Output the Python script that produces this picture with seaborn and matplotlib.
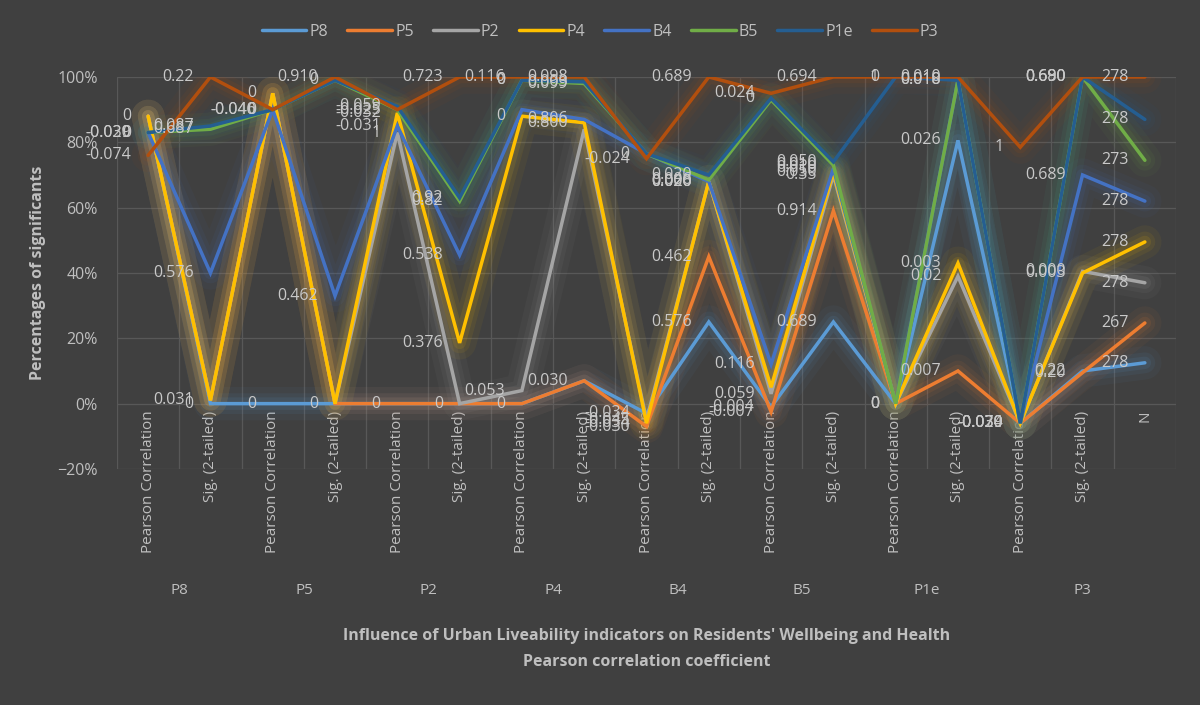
import pandas as pd
import matplotlib
matplotlib.use('Agg')
import matplotlib.pyplot as plt
import matplotlib.transforms as mtransforms
from matplotlib.ticker import PercentFormatter
import seaborn as sns

# categories on the x axis
groups = ['P8', 'P5', 'P2', 'P4', 'B4', 'B5', 'P1e', 'P3']
categories = ['Pearson Correlation', 'Sig. (2-tailed)'] * 8 + ['N']
series = ['P8', 'P5', 'P2', 'P4', 'B4', 'B5', 'P1e', 'P3']

# plotted values (percent)
P8 = [88, 0, 0, 0, 0, 0, 0, 7, -3, 25, -1, 25, 0, 80.6, -6, 10, 12.5]
P5 = [88, 1, 95, 0, 0, 0, 0, 7, -7, 45, -2.5, 59, 0, 10, -6, 9.5, 24.7]
P2 = [88, 1, 95, 0, 83, 0, 4, 84, -5, 68, 3, 70, 0, 39, -6, 40.5, 37]
P4 = [88, 1, 95, 0, 89, 18.6, 88, 86, -6, 68, 5, 71, 0, 43, -6, 40, 49.5]
B4 = [83, 40, 90, 33, 85, 45.5, 90, 87, 76.5, 68, 12, 72, 0, 99, -6, 70, 62]
B5 = [83, 84, 90, 99, 90, 62, 99, 98, 76.5, 68.5, 93, 73, 0, 99, -6, 100, 74.5]
P1e = [83, 85, 90, 99, 91, 63, 99, 98.5, 76.5, 70, 93.5, 74, 100, 99, -6, 100, 87]
P3 = [76, 100, 90, 100, 90, 100, 100, 100, 75, 100, 95, 100, 100, 100, 78.5, 100, 100]

# data labels (text from the correlation table, '' = none shown)
lab_P8 = ['', '0', '0', '0', '', '', '', '', '-0.034', '0.576', '-0.004', '0.689', '0', '0.026', '-0.070', '0.22', '278']
lab_P5 = ['', '', '', '', '0', '0', '0', '0.030', '-0.030', '0.462', '-0.007', '0.914', '', '0.007', '-0.039', '0.20', '267']
lab_P2 = ['', '', '', '', '1', '', '0.053', '', '-0.045', '0.020', '0.059', '0.35', '', '0.02', '-0.024', '0.000', '278']
lab_P4 = ['0', '0.031', '0', '', '-0.032', '0.376', '0', '0.800', '-0.034', '0.000', '', '0.050', '0', '0.003', '-0.030', '0.003', '278']
lab_B4 = ['-0.039', '0.576', '-0.040', '0.462', '-0.031', '0.538', '', '0.806', '0', '0.026', '0.116', '0.010', '', '', '', '0.689', '278']
lab_B5 = ['-0.020', '0.687', '-0.046', '', '-0.025', '0.82', '0', '0.099', '', '0.006', '', '0.010', '0', '0.018', '', '0.680', '273']
lab_P1e = ['0', '0.087', '', '0', '-0.059', '0.92', '0', '0.003', '', '0.020', '0', '0.050', '1', '0.010', '', '0.690', '278']
lab_P3 = ['-0.074', '0.22', '0', '0.910', '', '0.723', '0.116', '0.098', '-0.024', '0.689', '0.024', '0.694', '0', '0.010', '1', '0.690', '278']

values = dict(P8=P8, P5=P5, P2=P2, P4=P4, B4=B4, B5=B5, P1e=P1e, P3=P3)
labels = dict(P8=lab_P8, P5=lab_P5, P2=lab_P2, P4=lab_P4, B4=lab_B4, B5=lab_B5, P1e=lab_P1e, P3=lab_P3)

palette = {'P8': '#5B9BD5', 'P5': '#ED7D31', 'P2': '#A5A5A5', 'P4': '#FFC000',
           'B4': '#4472C4', 'B5': '#70AD47', 'P1e': '#255E91', 'P3': '#B24F0E'}

rows = []
for s in series:
    for i, v in enumerate(values[s]):
        rows.append({'idx': i, 'value': v, 'series': s})
df = pd.DataFrame(rows)

bg = '#404040'
txt = '#BFBFBF'

sns.set_theme(style='dark')
plt.rcParams['font.family'] = ['Open Sans', 'DejaVu Sans']

fig = plt.figure(figsize=(12, 7.05), dpi=100, facecolor=bg)
ax = fig.add_axes([0.0975, 0.3348, 0.8825, 0.556])
ax.set_facecolor(bg)

# soft glow under the lines
for lw, a in [(24, 0.05), (15, 0.07), (9, 0.1)]:
    sns.lineplot(data=df, x='idx', y='value', hue='series', hue_order=series,
                 palette=palette, lw=lw, alpha=a, legend=False, ax=ax,
                 solid_capstyle='round', solid_joinstyle='round')
sns.lineplot(data=df, x='idx', y='value', hue='series', hue_order=series,
             palette=palette, lw=2.5, ax=ax, solid_joinstyle='miter')

for s in series:
    for i, v in enumerate(values[s]):
        t = labels[s][i]
        if t:
            ax.annotate(t, (i, v), xytext=(-12, 0), textcoords='offset points',
                        ha='right', va='center', color='#C9C9C9', fontsize=11.5,
                        zorder=10)

# category axis crosses at 0 (set before the ticks, it resets them)
for sp in ax.spines.values():
    sp.set_visible(False)
ax.spines['bottom'].set_position(('data', 0))

ax.set_xlim(-0.5, 16.5)
ax.set_ylim(-20, 100)
ax.set_yticks(range(-20, 101, 20))
ax.yaxis.set_major_formatter(PercentFormatter(decimals=0))
ax.set_xticks(range(len(categories)))
ax.set_xticklabels(categories, rotation=90, color=txt, fontsize=11)
ax.tick_params(axis='y', colors=txt, labelsize=11.5, length=0, pad=14)
ax.tick_params(axis='x', length=0, pad=5)

# grid: horizontal at every 20%, vertical between categories
for y in range(-20, 101, 20):
    ax.axhline(y, color='#585858', lw=0.9, zorder=0)
for x in range(18):
    ax.axvline(x - 0.5, color='#585858', lw=0.9, zorder=0)
ax.grid(False)

ax.set_xlabel('')
ax.set_ylabel('Percentages of significants', color=txt, fontsize=11.5,
              fontweight='bold', labelpad=8)

# group labels under the category labels
trans = mtransforms.blended_transform_factory(ax.transData, fig.transFigure)
for g, name in enumerate(groups):
    if name == 'P3':
        xc = 15
    else:
        xc = 2 * g + 0.5
    ax.text(xc, 0.163, name, transform=trans, ha='center', va='center',
            color=txt, fontsize=11)

fig.text(0.539, 0.098, "Influence of Urban Liveability indicators on Residents' Wellbeing and Health",
         ha='center', va='center', color=txt, fontsize=11.5, fontweight='bold')
fig.text(0.539, 0.061, 'Pearson correlation coefficient',
         ha='center', va='center', color=txt, fontsize=11.5, fontweight='bold')

handles, lbls = ax.get_legend_handles_labels()
ax.legend_.remove()
fig.legend(handles, lbls, loc='center', bbox_to_anchor=(0.5, 0.955), ncol=8,
           frameon=False, labelcolor=txt, fontsize=11.5, handlelength=2.8,
           handletextpad=0.2, columnspacing=1.2)

fig.savefig('out.png', dpi=100, facecolor=bg)
